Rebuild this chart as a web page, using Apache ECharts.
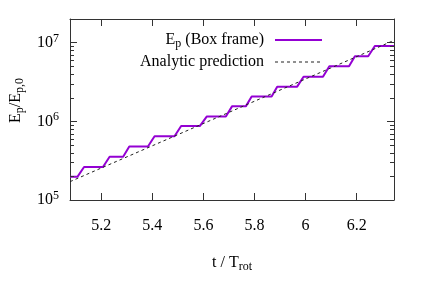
<!DOCTYPE html>
<html>
<head>
<meta charset="utf-8">
<script src="https://cdn.jsdelivr.net/npm/echarts@6/dist/echarts.min.js"></script>
<style>
html,body{margin:0;padding:0;background:#fff;}
#c{width:436px;height:305px;}
</style>
</head>
<body>
<div id="c"></div>
<script>
// ---- data ----
var xRange = [5.078, 6.346];
var yRange = [1e5, 2e7];
var stepX = [5.078, 5.107, 5.133, 5.207, 5.233, 5.286, 5.310, 5.383, 5.409, 5.487, 5.513, 5.586, 5.613, 5.688, 5.712, 5.766, 5.789, 5.867, 5.889, 5.967, 5.992, 6.068, 6.093, 6.170, 6.193, 6.245, 6.271, 6.346];
var stepY = [1.97e5, 1.97e5, 2.63e5, 2.63e5, 3.55e5, 3.55e5, 4.78e5, 4.78e5, 6.47e5, 6.47e5, 8.71e5, 8.71e5, 1.15e6, 1.15e6, 1.55e6, 1.55e6, 2.07e6, 2.07e6, 2.76e6, 2.76e6, 3.69e6, 3.69e6, 5.02e6, 5.02e6, 6.72e6, 6.72e6, 9.09e6, 9.09e6];
var anaX = [5.078, 5.7, 6.346];
var anaY = [1.71e5, 1.3e6, 1.07e7];
var minorY = [2e5, 3e5, 4e5, 5e5, 6e5, 7e5, 8e5, 9e5, 2e6, 3e6, 4e6, 5e6, 6e6, 7e6, 8e6, 9e6];
var seriesNames = ['E_p (Box frame)', 'Analytic prediction'];

var FONT = 'Liberation Serif';
var AX = '#333';

function zip(a, b) { return a.map(function (v, i) { return [v, b[i]]; }); }

function xLabel(v) {
  var k = Math.round(v / 0.2);
  if (Math.abs(v - k * 0.2) > 1e-6) return '';
  return String(Math.round(v * 10) / 10);
}
function yLabel(v) {
  var e = Math.log10(v);
  if (Math.abs(e - Math.round(e)) > 1e-6) return '';
  return '{b|10}{s|' + Math.round(e) + '}';
}

var richSup = {
  b: { fontFamily: FONT, fontSize: 16, lineHeight: 20, color: '#000' },
  s: { fontFamily: FONT, fontSize: 12, lineHeight: 8, verticalAlign: 'top', color: '#000' }
};
var richSub = {
  b: { fontFamily: FONT, fontSize: 16, lineHeight: 20, color: '#000' },
  s: { fontFamily: FONT, fontSize: 12, lineHeight: 10, verticalAlign: 'bottom', color: '#000' }
};

function xAxisCfg(pos, show) {
  return {
    type: 'value', position: pos, min: xRange[0], max: xRange[1], splitNumber: 6,
    axisLine: { show: true, onZero: false, lineStyle: { color: AX, width: 1 } },
    axisTick: { show: true, inside: true, length: 7, lineStyle: { color: AX } },
    axisLabel: { show: show, margin: 18, formatter: xLabel, fontFamily: FONT, fontSize: 16, color: '#000' },
    splitLine: { show: false }
  };
}
function yAxisCfg(pos, show) {
  return {
    type: 'log', logBase: 10, position: pos, min: yRange[0], max: yRange[1],
    axisLine: { show: true, onZero: false, lineStyle: { color: AX, width: 1 } },
    axisTick: { show: true, inside: true, length: 7, lineStyle: { color: AX } },
    axisLabel: { show: show, margin: 11, formatter: yLabel, rich: richSup },
    splitLine: { show: false }
  };
}

var xa0 = xAxisCfg('bottom', true);
xa0.name = '{b|t / T}{s|rot}';
xa0.nameLocation = 'middle';
xa0.nameGap = 53;
xa0.nameTextStyle = { rich: richSub };
var ya0 = yAxisCfg('left', true);
ya0.name = '{b|E}{s|p}{b|/E}{s|p,0}';
ya0.nameLocation = 'middle';
ya0.nameGap = 44;
ya0.nameTextStyle = { rich: richSub, padding: [0, 0, 0, 18] };

var chart = echarts.init(document.getElementById('c'), null, { renderer: 'canvas' });
chart.setOption({
  animation: false,
  backgroundColor: '#fff',
  grid: { left: 68, right: 42, top: 19, bottom: 105, containLabel: false },
  xAxis: [xa0, xAxisCfg('top', false)],
  yAxis: [ya0, yAxisCfg('right', false)],
  legend: {
    orient: 'vertical', align: 'right', right: 108, top: 27,
    itemWidth: 47, itemHeight: 20, itemGap: 4,
    textStyle: { fontFamily: FONT, fontSize: 16, color: '#000', padding: [0, 6, 0, 0], rich: richSub },
    formatter: function (n) {
      if (n === seriesNames[0]) return '{b|E}{s|p}{b| (Box frame)}';
      return '{b|' + n + '}';
    },
    data: [
      { name: seriesNames[0], itemStyle: { opacity: 0 }, lineStyle: { color: '#9400d3', width: 2, opacity: 1 } },
      { name: seriesNames[1], itemStyle: { opacity: 0 }, lineStyle: { color: '#222', width: 1, type: [3, 3], opacity: 1 } }
    ]
  },
  series: [
    {
      name: seriesNames[0], type: 'line', data: zip(stepX, stepY), symbol: 'none',
      lineStyle: { color: '#9400d3', width: 2 }, itemStyle: { color: '#9400d3' }, z: 3
    },
    {
      name: seriesNames[1], type: 'line', data: zip(anaX, anaY), symbol: 'none',
      lineStyle: { color: '#222', width: 1, type: [3, 3] }, itemStyle: { color: '#222' }, z: 4
    },
    {
      type: 'custom', silent: true, z: 5,
      data: minorY.map(function (v) { return [xRange[0], v]; }),
      encode: { x: 0, y: 1 },
      renderItem: function (params, api) {
        var p = api.coord([api.value(0), api.value(1)]);
        var cs = params.coordSys;
        var y = Math.round(p[1]) + 0.5;
        return {
          type: 'group', children: [
            { type: 'line', shape: { x1: cs.x, y1: y, x2: cs.x + 4, y2: y }, style: { stroke: AX, lineWidth: 1 } },
            { type: 'line', shape: { x1: cs.x + cs.width - 4, y1: y, x2: cs.x + cs.width, y2: y }, style: { stroke: AX, lineWidth: 1 } }
          ]
        };
      }
    }
  ]
});
</script>
</body>
</html>
